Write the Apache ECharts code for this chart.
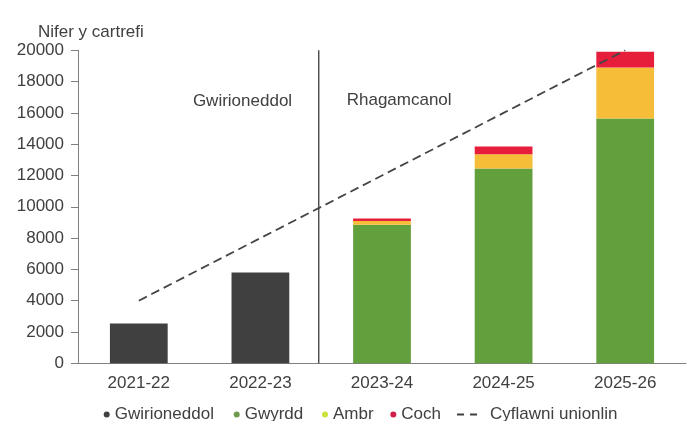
<!DOCTYPE html>
<html>
<head>
<meta charset="utf-8">
<script src="https://cdn.jsdelivr.net/npm/echarts@6/dist/echarts.min.js"></script>
<style>
  html, body { margin: 0; padding: 0; background: #ffffff; }
  #chart { width: 691px; height: 421px; }
</style>
</head>
<body>
<div id="chart"></div>
<script>
// ---- Data ----
const categories = ['2021-22', '2022-23', '2023-24', '2024-25', '2025-26'];
const actual = [2550, 5800, '-', '-', '-'];          // Gwirioneddol
const green = ['-', '-', 8850, 12450, 15650];       // Gwyrdd
const amber = ['-', '-', 250, 900, 3250];           // Ambr
const red = ['-', '-', 150, 500, 1000];             // Coch
const trajectory = [4000, 8000, 12000, 16000, 20000]; // Cyflawni unionlin
const yTicks = { min: 0, max: 20000, interval: 2000 };
const dividerAt = 1.98; // boundary between actual and forecast (in category units)
const dividerSpan = [0, 20000];

const seriesNames = ['Gwirioneddol', 'Gwyrdd', 'Ambr', 'Coch', 'Cyflawni unionlin'];
const font = 'Liberation Sans, Arial, Helvetica, sans-serif';
const textColor = '#404040';
const fs = 17;

const chart = echarts.init(document.getElementById('chart'), null, { renderer: 'canvas' });

function dotLegend(name, left, color) {
  return {
    data: [{ name: name, itemStyle: { color: color } }],
    left: left, top: 401,
    icon: 'circle', itemWidth: 6, itemHeight: 6,
    selectedMode: false,
    textStyle: { fontFamily: font, fontSize: fs, color: textColor }
  };
}

const option = {
  backgroundColor: '#ffffff',
  animation: false,
  grid: { left: 78, right: 5, top: 50.3, bottom: 421 - 363.3, containLabel: false },
  legend: [
    dotLegend(seriesNames[0], 98.7, '#404040'),
    dotLegend(seriesNames[1], 228.7, '#6e9a4e'),
    dotLegend(seriesNames[2], 317, '#cde23a'),
    dotLegend(seriesNames[3], 385.3, '#d01f4b'),
    {
      data: [{ name: seriesNames[4], icon: 'path://M0,0H7V2H0Z M13,0H20V2H13Z', itemStyle: { color: '#404040' } }],
      left: 452, top: 401,
      itemWidth: 24, itemHeight: 2,
      selectedMode: false,
      textStyle: { fontFamily: font, fontSize: fs, color: textColor, padding: [0, 0, 0, 6] }
    }
  ],
  graphic: [
    { type: 'text', left: 38, top: 24, style: { text: 'Nifer y cartrefi', font: fs + 'px ' + font, fill: textColor } },
    { type: 'text', x: 242.5, y: 101.7, style: { text: 'Gwirioneddol', font: fs + 'px ' + font, fill: textColor, align: 'center', verticalAlign: 'middle' } },
    { type: 'text', x: 346.7, y: 100, style: { text: 'Rhagamcanol', font: fs + 'px ' + font, fill: textColor, align: 'left', verticalAlign: 'middle' } }
  ],
  xAxis: [
    {
      type: 'category',
      data: categories,
      axisLine: { lineStyle: { color: '#808080', width: 1 } },
      axisTick: { show: false },
      axisLabel: { fontFamily: font, fontSize: fs, color: textColor, margin: 12 },
      splitLine: { show: false }
    },
    {
      type: 'value', min: 0, max: categories.length, show: false
    }
  ],
  yAxis: {
    type: 'value',
    min: yTicks.min, max: yTicks.max, interval: yTicks.interval,
    axisLine: { show: true, lineStyle: { color: '#808080', width: 1 } },
    axisTick: { show: true, length: 7, lineStyle: { color: '#808080' } },
    axisLabel: { fontFamily: font, fontSize: fs, color: textColor, margin: 14, formatter: function (v) { return String(v); } },
    splitLine: { show: false }
  },
  series: [
    {
      name: seriesNames[0], type: 'bar', stack: 'total', data: actual,
      barWidth: '47.5%', itemStyle: { color: '#404040' }
    },
    {
      name: seriesNames[1], type: 'bar', stack: 'total', data: green,
      barWidth: '47.5%', itemStyle: { color: '#62a03e' }
    },
    {
      name: seriesNames[2], type: 'bar', stack: 'total', data: amber,
      barWidth: '47.5%', itemStyle: { color: '#f6be38' }
    },
    {
      name: seriesNames[3], type: 'bar', stack: 'total', data: red,
      barWidth: '47.5%', itemStyle: { color: '#e61e3c' }
    },
    {
      name: seriesNames[4], type: 'line', data: trajectory,
      symbol: 'none', z: 5,
      lineStyle: { color: '#454545', width: 1.8, type: [9, 5] },
      itemStyle: { color: '#454545' }
    },
    {
      name: 'divider', type: 'line', xAxisIndex: 1,
      data: [[dividerAt, dividerSpan[0]], [dividerAt, dividerSpan[1]]],
      symbol: 'none', silent: true, z: 4,
      lineStyle: { color: '#2b2b2b', width: 1.2 }
    }
  ]
};

chart.setOption(option);
</script>
</body>
</html>
